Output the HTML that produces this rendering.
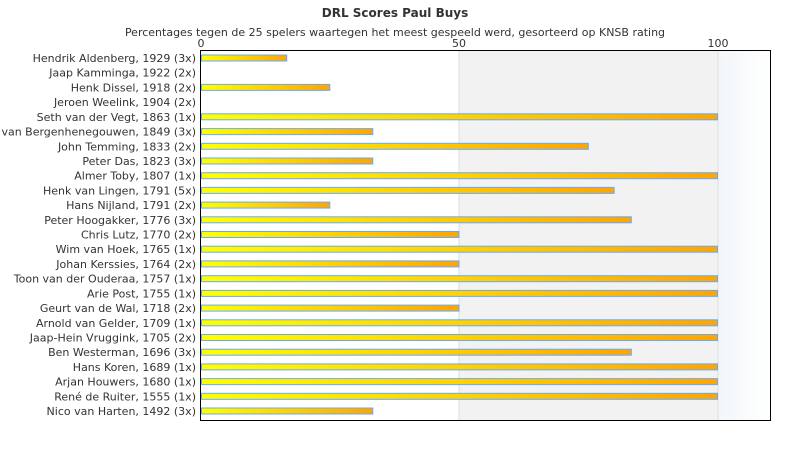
<!DOCTYPE html>
<html><head><meta charset="utf-8"><style>body{margin:0;background:#fff}svg{display:block}</style></head><body>
<svg width="790" height="450" xmlns="http://www.w3.org/2000/svg" font-family="'DejaVu Sans','Liberation Sans',sans-serif">
<defs>
<linearGradient id="bg" x1="0" x2="1"><stop offset="0" stop-color="#f2f6fa"/><stop offset="1" stop-color="#ffffff"/></linearGradient>
<linearGradient id="bar" x1="0" x2="1"><stop offset="0" stop-color="#ffff00"/><stop offset="1" stop-color="#ffa500"/></linearGradient>
</defs>
<text x="395" y="17" text-anchor="middle" font-size="12" font-weight="bold" fill="#333">DRL Scores Paul Buys</text>
<text x="395" y="36" text-anchor="middle" font-size="11" fill="#333">Percentages tegen de 25 spelers waartegen het meest gespeeld werd, gesorteerd op KNSB rating</text>
<text x="201" y="47" text-anchor="middle" font-size="11" fill="#333">0</text>
<text x="459" y="47" text-anchor="middle" font-size="11" fill="#333">50</text>
<text x="718" y="47" text-anchor="middle" font-size="11" fill="#333">100</text>
<rect x="459" y="50" width="259" height="370" fill="#f2f2f2"/>
<rect x="718" y="50" width="52" height="370" fill="url(#bg)"/>
<line x1="459" y1="50" x2="459" y2="420" stroke="#ddd"/>
<line x1="718" y1="50" x2="718" y2="420" stroke="#ddd"/>
<rect x="200.5" y="50.5" width="570" height="370" fill="none" stroke="#000"/>
<g font-size="11" fill="#333" text-anchor="end">
<text x="196" y="62">Hendrik Aldenberg, 1929 (3x)</text>
<text x="196" y="76.7">Jaap Kamminga, 1922 (2x)</text>
<text x="196" y="91.4">Henk Dissel, 1918 (2x)</text>
<text x="196" y="106.1">Jeroen Weelink, 1904 (2x)</text>
<text x="196" y="120.8">Seth van der Vegt, 1863 (1x)</text>
<text x="196" y="135.6">van Bergenhenegouwen, 1849 (3x)</text>
<text x="196" y="150.3">John Temming, 1833 (2x)</text>
<text x="196" y="165">Peter Das, 1823 (3x)</text>
<text x="196" y="179.7">Almer Toby, 1807 (1x)</text>
<text x="196" y="194.4">Henk van Lingen, 1791 (5x)</text>
<text x="196" y="209.1">Hans Nijland, 1791 (2x)</text>
<text x="196" y="223.8">Peter Hoogakker, 1776 (3x)</text>
<text x="196" y="238.5">Chris Lutz, 1770 (2x)</text>
<text x="196" y="253.2">Wim van Hoek, 1765 (1x)</text>
<text x="196" y="267.9">Johan Kerssies, 1764 (2x)</text>
<text x="196" y="282.7">Toon van der Ouderaa, 1757 (1x)</text>
<text x="196" y="297.4">Arie Post, 1755 (1x)</text>
<text x="196" y="312.1">Geurt van de Wal, 1718 (2x)</text>
<text x="196" y="326.8">Arnold van Gelder, 1709 (1x)</text>
<text x="196" y="341.5">Jaap-Hein Vruggink, 1705 (2x)</text>
<text x="196" y="356.2">Ben Westerman, 1696 (3x)</text>
<text x="196" y="370.9">Hans Koren, 1689 (1x)</text>
<text x="196" y="385.6">Arjan Houwers, 1680 (1x)</text>
<text x="196" y="400.3">René de Ruiter, 1555 (1x)</text>
<text x="196" y="415">Nico van Harten, 1492 (3x)</text>
</g>
<g fill="url(#bar)" stroke="#66aaff">
<rect x="201.5" y="55" width="85.2" height="6"/>
<rect x="201.5" y="84.4" width="128.3" height="6"/>
<rect x="201.5" y="113.8" width="516" height="6"/>
<rect x="201.5" y="128.6" width="171.3" height="6"/>
<rect x="201.5" y="143.3" width="386.8" height="6"/>
<rect x="201.5" y="158" width="171.3" height="6"/>
<rect x="201.5" y="172.7" width="516" height="6"/>
<rect x="201.5" y="187.4" width="412.6" height="6"/>
<rect x="201.5" y="202.1" width="128.3" height="6"/>
<rect x="201.5" y="216.8" width="429.8" height="6"/>
<rect x="201.5" y="231.5" width="257.5" height="6"/>
<rect x="201.5" y="246.2" width="516" height="6"/>
<rect x="201.5" y="260.9" width="257.5" height="6"/>
<rect x="201.5" y="275.7" width="516" height="6"/>
<rect x="201.5" y="290.4" width="516" height="6"/>
<rect x="201.5" y="305.1" width="257.5" height="6"/>
<rect x="201.5" y="319.8" width="516" height="6"/>
<rect x="201.5" y="334.5" width="516" height="6"/>
<rect x="201.5" y="349.2" width="429.8" height="6"/>
<rect x="201.5" y="363.9" width="516" height="6"/>
<rect x="201.5" y="378.6" width="516" height="6"/>
<rect x="201.5" y="393.3" width="516" height="6"/>
<rect x="201.5" y="408" width="171.3" height="6"/>
</g>
</svg>
</body></html>
